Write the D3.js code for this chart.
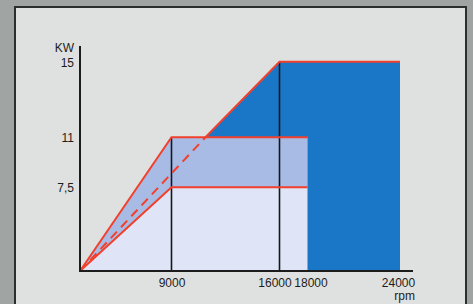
<!DOCTYPE html>
<html><head><meta charset="utf-8">
<script src="https://cdn.jsdelivr.net/npm/d3@7"></script>
<style>
html,body{margin:0;padding:0;background:#a0a4a2;}
svg{display:block;}
text{font-family:"Liberation Sans",Arial,sans-serif;fill:#1c1c1c;}
</style></head>
<body>
<svg id="c" width="473" height="304"></svg>
<script>
// data
const rpmTicks = [9000, 16000, 18000, 24000];
const kwTicks = [7.5, 11, 15];
const kwTickLabels = ["7,5", "11", "15"];
const lowerCurve = [[0,0],[9000,7.5],[18000,7.5]];     // lower red boundary
const upperCurve = [[0,0],[9000,11],[18000,11]];       // upper red boundary
const dashedCurve = [[0,0],[11200,11]];                // dashed part of max line
const maxCurve = [[11200,11],[16000,15],[24000,15]];   // max power line
const lightArea = [[0,0],[9000,7.5],[18000,7.5],[18000,0]];
const midArea = [[0,0],[9000,11],[18000,11],[18000,7.5],[9000,7.5]];
const darkArea = [[11200,11],[16000,15],[24000,15],[24000,0],[18000,0],[18000,11]];
const verticals = [[9000,11],[16000,15]];

const svg = d3.select("#c");
// panel
svg.append("rect").attr("x",15).attr("y",7).attr("width",451).attr("height",310)
  .attr("fill","#dfe1e0").attr("stroke","#2b2f2d").attr("stroke-width",2);

// schematic (non-linear) scales
const x = d3.scaleLinear().domain([0,9000,16000,18000,24000]).range([80,171.5,279.5,307.5,400]);
const y = d3.scaleLinear().domain([0,7.5,11,15]).range([271,187.3,137.3,61.8]);

const poly = pts => pts.map(p=>[x(p[0]),y(p[1])].join(",")).join(" ");
const line = d3.line().x(d=>x(d[0])).y(d=>y(d[1]));

svg.append("polygon").attr("points",poly(lightArea)).attr("fill","#dfe5f6");
svg.append("polygon").attr("points",poly(midArea)).attr("fill","#a7bbe5");
svg.append("polygon").attr("points",poly(darkArea)).attr("fill","#1a77c7");

// black verticals
svg.selectAll(".v").data(verticals).enter().append("line")
  .attr("x1",d=>x(d[0])).attr("x2",d=>x(d[0]))
  .attr("y1",y(0)).attr("y2",d=>y(d[1]))
  .attr("stroke","#15181a").attr("stroke-width",1.6);

// red lines
const red = "#f2402c";
[lowerCurve, upperCurve, maxCurve].forEach(c=>{
  svg.append("path").attr("d",line(c)).attr("fill","none")
    .attr("stroke",red).attr("stroke-width",2).attr("stroke-linejoin","miter");
});
svg.append("path").attr("d",line(dashedCurve)).attr("fill","none")
  .attr("stroke",red).attr("stroke-width",2).attr("stroke-dasharray","9,6");

// axes lines
svg.append("line").attr("x1",x(0)).attr("x2",x(0)).attr("y1",y(0)+1).attr("y2",46)
  .attr("stroke","#1c1c1c").attr("stroke-width",2);
svg.append("line").attr("x1",x(0)-1).attr("x2",413).attr("y1",y(0)).attr("y2",y(0))
  .attr("stroke","#1c1c1c").attr("stroke-width",2);

// y axis labels
const ya = svg.append("g").attr("transform",`translate(${x(0)-6},0)`)
  .call(d3.axisLeft(y).tickValues(kwTicks).tickSize(0).tickPadding(0)
    .tickFormat((d,i)=>kwTickLabels[i]));
ya.select(".domain").remove();
ya.selectAll("text").attr("font-size",12).attr("font-family","Liberation Sans, Arial, sans-serif")
  .attr("fill","#1c1c1c").attr("dy","0.35em");
svg.append("text").attr("x",x(0)-6).attr("y",52).attr("text-anchor","end")
  .attr("font-size",12).text("KW");

// x axis labels
const xShift = {16000:-5, 18000:3, 24000:-2};
const xa = svg.append("g").attr("transform",`translate(0,${y(0)})`)
  .call(d3.axisBottom(x).tickValues(rpmTicks).tickSize(0).tickPadding(0)
    .tickFormat(d3.format("d")));
xa.select(".domain").remove();
xa.selectAll("text").attr("font-size",12).attr("font-family","Liberation Sans, Arial, sans-serif")
  .attr("fill","#1c1c1c").attr("dy",null).attr("y",16)
  .attr("dx",d=>xShift[d]||0);
svg.append("text").attr("x",415).attr("y",300).attr("text-anchor","end")
  .attr("font-size",12).text("rpm");
</script>
</body></html>
